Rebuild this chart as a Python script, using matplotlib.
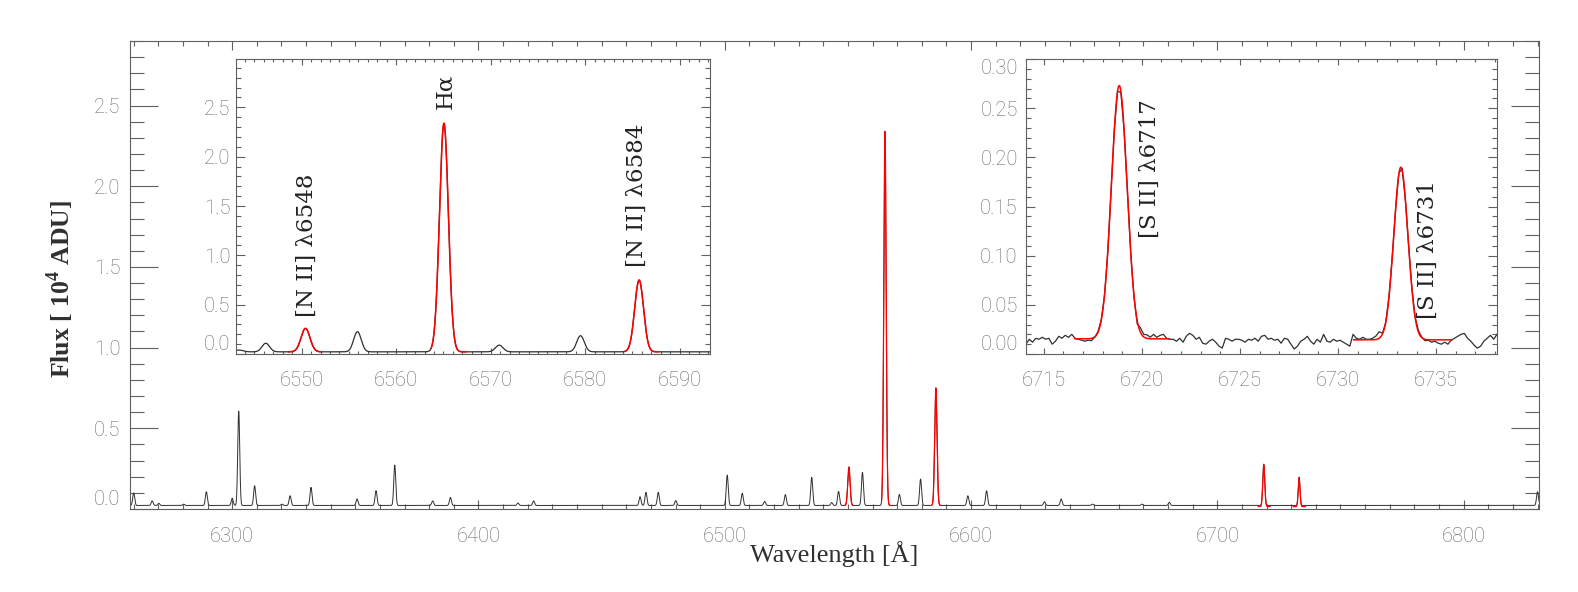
import matplotlib
matplotlib.use('Agg')
import matplotlib.pyplot as plt
from matplotlib.ticker import MultipleLocator, FormatStrFormatter
import numpy as np

plt.rcParams['font.family'] = 'Roboto'
plt.rcParams['font.weight'] = 'light'
plt.rcParams['mathtext.fontset'] = 'custom'
plt.rcParams['mathtext.rm'] = 'Liberation Serif'
plt.rcParams['mathtext.bf'] = 'Liberation Serif:bold'

# weak emission lines in the spectrum: observed centre [A] and peak flux [1e4 ADU]
line_wave = [6260.0, 6267.5, 6270.2, 6280.3, 6289.5, 6300.0, 6302.65, 6309.1, 6320.2,
             6323.5, 6332.0, 6350.7, 6358.4, 6366.0, 6381.4, 6388.6, 6416.0, 6422.4,
             6465.6, 6468.0, 6473.0, 6480.1, 6501.0, 6507.1, 6516.2, 6524.6, 6535.3,
             6543.4, 6546.2, 6555.9, 6570.9, 6579.5, 6598.7, 6606.3, 6629.8, 6636.6,
             6649.3, 6669.4, 6680.5, 6830.0]
line_peak = [0.100, 0.050, 0.035, 0.030, 0.107, 0.066, 0.610, 0.144, 0.030,
             0.082, 0.134, 0.062, 0.113, 0.272, 0.050, 0.072, 0.037, 0.050,
             0.076, 0.103, 0.103, 0.052, 0.210, 0.097, 0.047, 0.089, 0.196,
             0.040, 0.109, 0.227, 0.090, 0.186, 0.082, 0.113, 0.045, 0.062,
             0.030, 0.030, 0.041, 0.107]
line_sigma = 0.40
continuum = 0.022

# gaussian fits (red): [N II] 6548, H-alpha, [N II] 6584, [S II] 6717, [S II] 6731
fit_wave = [6550.4, 6565.05, 6585.7, 6718.85, 6733.2]
fit_peak = [0.260, 2.340, 0.750, 0.273, 0.190]
fit_sigma = [0.47, 0.47, 0.47, 0.40, 0.36]
fit_cont = [0.022, 0.022, 0.022, 0.0154, 0.0144]
fit_lo = [6548.6, 6563.7, 6584.2, 6716.6, 6730.8]
fit_hi = [6552.1, 6567.4, 6587.7, 6721.4, 6735.8]

# continuum read from the [S II] panel, one value per 1/6 A from 6714.1 to 6738.1
sii_cont = [0.010, 0.015, 0.012, 0.016, 0.015, 0.017, 0.015, 0.016, 0.010, 0.013,
            0.018, 0.016, 0.019, 0.017, 0.020, 0.016, 0.015, 0.014, 0.013, 0.014,
            0.013, 0.015, 0.016, 0.016, 0.015, 0.014, 0.015, 0.016, 0.015, 0.014,
            0.015, 0.016, 0.015, 0.014, 0.012, 0.020, 0.018, 0.019, 0.017, 0.020,
            0.017, 0.019, 0.020, 0.016, 0.015, 0.015, 0.013, 0.016, 0.012, 0.018,
            0.021, 0.019, 0.015, 0.017, 0.011, 0.010, 0.013, 0.015, 0.012, 0.008,
            0.006, 0.016, 0.015, 0.013, 0.015, 0.015, 0.014, 0.012, 0.015, 0.014,
            0.016, 0.013, 0.018, 0.019, 0.015, 0.016, 0.014, 0.015, 0.011, 0.016,
            0.015, 0.010, 0.005, 0.008, 0.013, 0.015, 0.018, 0.013, 0.010, 0.015,
            0.012, 0.020, 0.013, 0.012, 0.015, 0.013, 0.014, 0.012, 0.010, 0.008,
            0.020, 0.016, 0.015, 0.017, 0.015, 0.015, 0.016, 0.018, 0.021, 0.015,
            0.014, 0.016, 0.015, 0.014, 0.015, 0.016, 0.014, 0.015, 0.016, 0.015,
            0.016, 0.015, 0.013, 0.014, 0.012, 0.013, 0.011, 0.010, 0.012, 0.010,
            0.014, 0.016, 0.018, 0.020, 0.021, 0.016, 0.013, 0.009, 0.006, 0.008,
            0.013, 0.016, 0.019, 0.015, 0.020]

# line labels: text, x [A], start of the text along y
nii_labels = [('[N II] λ6548', 6550.5, 0.38), ('Hα', 6565.2, 2.48), ('[N II] λ6584', 6585.5, 0.88)]
sii_labels = [('[S II] λ6717', 6720.4, 0.118), ('[S II] λ6731', 6734.6, 0.036)]


def gauss(x, mu, amp, sig):
    return amp * np.exp(-0.5 * ((x - mu) / sig) ** 2)


# build the observed spectrum from the line list
wave = np.arange(6258.5, 6830.7, 0.1)
flux = np.full_like(wave, continuum)
for mu, pk in zip(line_wave, line_peak):
    flux += gauss(wave, mu, pk - continuum, line_sigma)
for mu, pk, sig, c in zip(fit_wave, fit_peak, fit_sigma, fit_cont):
    flux += gauss(wave, mu, pk - c, sig)

sii_wave = np.linspace(6714.1, 6738.1, len(sii_cont))
sii_flux = np.array(sii_cont)
for mu, pk, sig, c in zip(fit_wave[3:], fit_peak[3:], fit_sigma[3:], fit_cont[3:]):
    sii_flux = sii_flux + gauss(sii_wave, mu, pk - c, sig)

# fitted curves
fits = []
for mu, pk, sig, c, lo, hi in zip(fit_wave, fit_peak, fit_sigma, fit_cont, fit_lo, fit_hi):
    xf = np.linspace(lo, hi, 200)
    fits.append((xf, c + gauss(xf, mu, pk - c, sig)))

spec_color = '#303030'
axis_color = '#606060'
label_color = '#6a6a6a'
serif = 'Liberation Serif'
note_font = 'DejaVu Serif'


def style_axes(a, xmaj, xmin, ymaj, ymin, xlen, ylen, yfmt, pad_x, pad_y):
    a.xaxis.set_major_locator(MultipleLocator(xmaj))
    a.xaxis.set_minor_locator(MultipleLocator(xmin))
    a.yaxis.set_major_locator(MultipleLocator(ymaj))
    a.yaxis.set_minor_locator(MultipleLocator(ymin))
    a.yaxis.set_major_formatter(FormatStrFormatter(yfmt))
    a.tick_params(which='both', direction='in', top=True, right=True,
                  color=axis_color, width=0.8, labelcolor=label_color, labelsize=14.5)
    a.tick_params(axis='x', which='major', length=xlen, pad=pad_x)
    a.tick_params(axis='x', which='minor', length=xlen / 2)
    a.tick_params(axis='y', which='major', length=ylen, pad=pad_y)
    a.tick_params(axis='y', which='minor', length=ylen / 2)
    for s in a.spines.values():
        s.set_color(axis_color)
        s.set_linewidth(0.8)


fig = plt.figure(figsize=(15.78, 5.92), dpi=100)

# main panel
ax = fig.add_axes([130 / 1578, 83 / 592, 1409 / 1578, 468 / 592])
ax.plot(wave, flux, color=spec_color, lw=0.7)
for xf, yf in fits:
    ax.plot(xf, yf, color='#ff0000', lw=0.9)
ax.set_xlim(6258.5, 6830.6)
ax.set_ylim(0, 2.9)
style_axes(ax, 100, 10, 0.5, 0.1, 6.8, 20, '%.1f', 13, 7)
ax.set_yticks([0.0, 0.5, 1.0, 1.5, 2.0, 2.5])
ax.set_xlabel('Wavelength [Å]', fontsize=19, family=serif, weight='normal', color='#303030')
ax.xaxis.label.set_va('baseline')
ax.xaxis.set_label_coords(0.5, -53 / 468)
ax.set_ylabel('Flux [ 10$^{\\mathbf{4}}$ ADU]', fontsize=18.5, family=serif, weight='bold', color='#303030')
ax.yaxis.label.set_va('baseline')
ax.yaxis.label.set_rotation_mode('anchor')
ax.yaxis.set_label_coords(-60 / 1409, 0.47)

# inset: H-alpha + [N II]
ax1 = fig.add_axes([236 / 1578, 238 / 592, 474 / 1578, 295 / 592])
ax1.plot(wave, flux, color=spec_color, lw=0.9)
for xf, yf in fits[:3]:
    ax1.plot(xf, yf, color='#ff0000', lw=1.1)
ax1.set_xlim(6543.05, 6593.2)
ax1.set_ylim(0, 2.99)
style_axes(ax1, 10, 1, 0.5, 0.1, 4.3, 6.8, '%.1f', 12, 4)
ax1.set_yticks([0.0, 0.5, 1.0, 1.5, 2.0, 2.5])
for txt, x, y in nii_labels:
    ax1.text(x, y, txt, rotation=90, rotation_mode='anchor', ha='left', va='center',
             fontsize=16.5, family=note_font, weight='normal', color='#222222')

# inset: [S II] doublet
ax2 = fig.add_axes([1026 / 1578, 238 / 592, 471 / 1578, 295 / 592])
ax2.plot(sii_wave, sii_flux, color=spec_color, lw=0.9)
for xf, yf in fits[3:]:
    ax2.plot(xf, yf, color='#ff0000', lw=1.1)
ax2.set_xlim(6714.1, 6738.1)
ax2.set_ylim(0, 0.30)
style_axes(ax2, 5, 1, 0.05, 0.01, 4.3, 6.8, '%.2f', 12, 6)
ax2.set_yticks([0.0, 0.05, 0.10, 0.15, 0.20, 0.25, 0.30])
for txt, x, y in sii_labels:
    ax2.text(x, y, txt, rotation=90, rotation_mode='anchor', ha='left', va='center',
             fontsize=16.5, family=note_font, weight='normal', color='#222222')

# end labels sit inside the frame, as in the original
for a in (ax, ax1, ax2):
    a.yaxis.get_major_ticks()[0].label1.set_va('bottom')
ax2.yaxis.get_major_ticks()[-1].label1.set_va('top')

fig.savefig('out.png', dpi=100)
